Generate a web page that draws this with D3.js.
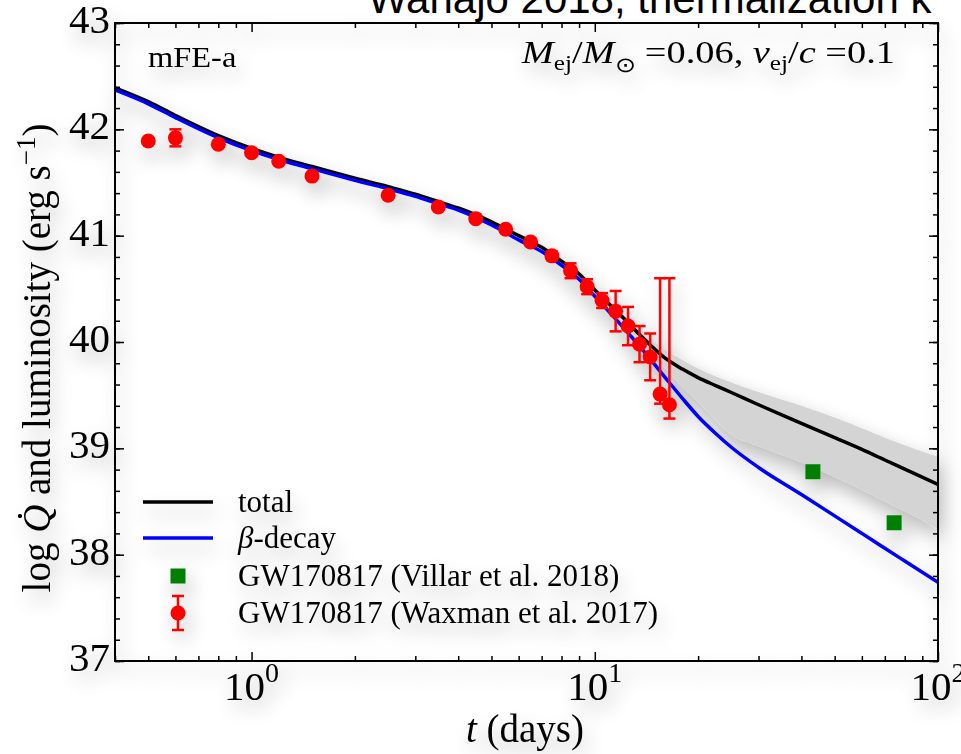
<!DOCTYPE html>
<html>
<head>
<meta charset="utf-8">
<script src="https://cdn.jsdelivr.net/npm/d3@7/dist/d3.min.js"></script>
<style>
body { margin: 0; background: #fff; overflow: hidden; }
text { font-family: "Liberation Serif", "Times New Roman", serif; fill: #000; }
</style>
</head>
<body>
<div id="chart"></div>
<script>
// model curves (log10 of heating rate, erg/s) against time in days
var modelDays = [0.4, 0.5, 0.6, 0.8, 1.0, 1.25, 1.5, 2, 2.5, 3, 3.5, 4, 5, 6, 7, 8, 9, 10, 12, 14, 16, 18, 20, 22.5, 25, 30, 40, 50, 60, 70, 80, 100];
var totalLog = [42.39, 42.26, 42.13, 41.94, 41.82, 41.72, 41.65, 41.54, 41.46, 41.39, 41.32, 41.26, 41.13, 41.00, 40.89, 40.76, 40.64, 40.49, 40.24, 40.02, 39.85, 39.745, 39.665, 39.59, 39.525, 39.41, 39.235, 39.10, 38.99, 38.89, 38.805, 38.66];
var betaLog = [42.37, 42.24, 42.11, 41.92, 41.80, 41.70, 41.63, 41.52, 41.44, 41.37, 41.30, 41.24, 41.10, 40.96, 40.85, 40.72, 40.59, 40.43, 40.15, 39.90, 39.67, 39.47, 39.30, 39.14, 39.01, 38.82, 38.565, 38.365, 38.20, 38.06, 37.94, 37.74];

// grey uncertainty band around the total
var bandDays = [12, 14, 16, 18, 20, 25, 30, 40, 50, 60, 70, 80, 100];
var bandHigh = [40.25, 40.06, 39.93, 39.83, 39.75, 39.62, 39.53, 39.40, 39.29, 39.19, 39.10, 39.03, 38.92];
var bandLow = [40.20, 39.95, 39.76, 39.58, 39.44, 39.13, 39.02, 38.87, 38.73, 38.61, 38.50, 38.41, 38.24];

// GW170817 bolometric luminosity, Waxman et al. 2017
var waxDays = [0.5, 0.6, 0.8, 1.0, 1.2, 1.5, 2.5, 3.5, 4.5, 5.5, 6.5, 7.5, 8.5, 9.5, 10.5, 11.5, 12.5, 13.5, 14.5, 15.5, 16.5];
var waxLog = [41.89, 41.92, 41.86, 41.78, 41.70, 41.56, 41.38, 41.27, 41.16, 41.06, 40.94, 40.81, 40.67, 40.52, 40.39, 40.29, 40.15, 39.98, 39.86, 39.51, 39.41];
var waxErrLo = [0.02, 0.08, 0.02, 0.02, 0.02, 0.02, 0.02, 0.02, 0.02, 0.03, 0.03, 0.04, 0.07, 0.07, 0.07, 0.19, 0.18, 0.17, 0.22, 0.09, 0.13];
var waxErrHi = [0.02, 0.08, 0.02, 0.02, 0.02, 0.02, 0.02, 0.02, 0.02, 0.03, 0.03, 0.04, 0.07, 0.07, 0.07, 0.19, 0.18, 0.17, 0.22, 1.09, 1.19];

// GW170817, Villar et al. 2018
var villarDays = [43.2, 74.5];
var villarLog = [38.78, 38.30];

var yTicks = [37, 38, 39, 40, 41, 42, 43];
var xTicks = [1, 10, 100];
var xTickExp = ["0", "1", "2"];
var legendLabels = ["total", "-decay", "GW170817 (Villar et al. 2018)", "GW170817 (Waxman et al. 2017)"];

var W = 961, H = 754;
var pLeft = 115, pRight = 938, pTop = 23, pBottom = 661;

var svg = d3.select("#chart")
            .append("svg")
            .attr("width", W)
            .attr("height", H);

var defs = svg.append("defs");
var f = defs.append("filter")
            .attr("id", "shadow")
            .attr("x", "-20%").attr("y", "-20%")
            .attr("width", "140%").attr("height", "140%");
f.append("feGaussianBlur").attr("in", "SourceAlpha").attr("stdDeviation", 10);
f.append("feOffset").attr("dx", 4).attr("dy", 10).attr("result", "off");
f.append("feComponentTransfer").append("feFuncA").attr("type", "linear").attr("slope", 0.28);
var fm = f.append("feMerge");
fm.append("feMergeNode");
fm.append("feMergeNode").attr("in", "SourceGraphic");

defs.append("clipPath").attr("id", "plotclip")
    .append("rect")
    .attr("x", pLeft).attr("y", pTop)
    .attr("width", pRight - pLeft).attr("height", pBottom - pTop);

// slide title, cut off at the top of the window
svg.append("text")
   .attr("x", 368)
   .attr("y", 13)
   .style("font-family", "'Liberation Sans', Arial, sans-serif")
   .style("font-size", "42px")
   .text("Wanajo 2018, thermalization k");

var g = svg.append("g").attr("filter", "url(#shadow)");

var x = d3.scaleLog().domain([0.4, 100]).range([pLeft, pRight]);
var y = d3.scaleLinear().domain([37, 43]).range([pBottom, pTop]);

var plot = g.append("g").attr("clip-path", "url(#plotclip)");

var band = bandDays.map(function(d, i){ return {t: d, hi: bandHigh[i], lo: bandLow[i]}; });
plot.append("path")
    .datum(band)
    .attr("d", d3.area()
      .x(function(d){ return x(d.t); })
      .y0(function(d){ return y(d.lo); })
      .y1(function(d){ return y(d.hi); })
      .curve(d3.curveMonotoneX))
    .attr("fill", "#d4d4d4");

var line = d3.line()
             .x(function(d){ return x(d.t); })
             .y(function(d){ return y(d.v); })
             .curve(d3.curveMonotoneX);

plot.append("path")
    .datum(modelDays.map(function(d, i){ return {t: d, v: totalLog[i]}; }))
    .attr("d", line)
    .attr("fill", "none")
    .attr("stroke", "black")
    .attr("stroke-width", 3.5);

plot.append("path")
    .datum(modelDays.map(function(d, i){ return {t: d, v: betaLog[i]}; }))
    .attr("d", line)
    .attr("fill", "none")
    .attr("stroke", "#0000ff")
    .attr("stroke-width", 3.5);

// error bars
var wax = waxDays.map(function(d, i){
  return {t: d, v: waxLog[i], lo: waxErrLo[i], hi: waxErrHi[i]};
});
var eb = plot.append("g").attr("stroke", "#ff0000").attr("stroke-width", 2.5);
wax.forEach(function(d){
  eb.append("line")
    .attr("x1", x(d.t)).attr("x2", x(d.t))
    .attr("y1", y(d.v - d.lo)).attr("y2", y(d.v + d.hi));
  [d.v - d.lo, d.v + d.hi].forEach(function(e){
    eb.append("line")
      .attr("x1", x(d.t) - 6).attr("x2", x(d.t) + 6)
      .attr("y1", y(e)).attr("y2", y(e));
  });
});

plot.selectAll("circle.wax")
    .data(wax)
    .enter().append("circle")
    .attr("class", "wax")
    .attr("cx", function(d){ return x(d.t); })
    .attr("cy", function(d){ return y(d.v); })
    .attr("r", 7.5)
    .attr("fill", "#ff0000");

plot.selectAll("rect.villar")
    .data(villarDays)
    .enter().append("rect")
    .attr("class", "villar")
    .attr("x", function(d){ return x(d) - 7.5; })
    .attr("y", function(d, i){ return y(villarLog[i]) - 7.5; })
    .attr("width", 15)
    .attr("height", 15)
    .attr("fill", "#008000");

// ticks, pointing inwards on all four sides
var minorX = x.ticks().filter(function(t){ return xTicks.indexOf(t) < 0; });
var minorY = d3.range(37, 43.001, 0.2);

function ticks(axis, pos, vals, size){
  var a = g.append("g")
           .attr("transform", pos)
           .call(axis.tickValues(vals).tickSize(-size).tickSizeOuter(0).tickFormat(""));
  a.select(".domain").remove();
  a.selectAll(".tick line").attr("stroke-width", 1.5);
}
ticks(d3.axisBottom(x), "translate(0," + pBottom + ")", xTicks, 9);
ticks(d3.axisBottom(x), "translate(0," + pBottom + ")", minorX, 5);
ticks(d3.axisTop(x), "translate(0," + pTop + ")", xTicks, 9);
ticks(d3.axisTop(x), "translate(0," + pTop + ")", minorX, 5);
ticks(d3.axisLeft(y), "translate(" + pLeft + ",0)", yTicks, 9);
ticks(d3.axisLeft(y), "translate(" + pLeft + ",0)", minorY, 5);
ticks(d3.axisRight(y), "translate(" + pRight + ",0)", yTicks, 9);
ticks(d3.axisRight(y), "translate(" + pRight + ",0)", minorY, 5);

g.append("rect")
 .attr("x", pLeft).attr("y", pTop)
 .attr("width", pRight - pLeft).attr("height", pBottom - pTop)
 .attr("fill", "none")
 .attr("stroke", "black")
 .attr("stroke-width", 2);

// tick labels
g.selectAll("text.ylab")
 .data(yTicks)
 .enter().append("text")
 .attr("class", "ylab")
 .attr("x", pLeft - 5)
 .attr("y", function(d){ return y(d) + 10; })
 .attr("text-anchor", "end")
 .style("font-size", "41px")
 .text(function(d){ return d; });

xTicks.forEach(function(t, i){
  var tx = g.append("text")
            .attr("x", x(t))
            .attr("y", 700)
            .attr("text-anchor", "middle")
            .style("font-size", "41px");
  tx.append("tspan").text("10");
  tx.append("tspan").attr("dy", -18).style("font-size", "28px").text(xTickExp[i]);
});

// axis titles
var xl = g.append("text")
          .attr("x", 525)
          .attr("y", 742)
          .attr("text-anchor", "middle")
          .style("font-size", "39px");
xl.append("tspan").style("font-style", "italic").text("t");
xl.append("tspan").text(" (days)");

var yl = g.append("text")
          .attr("transform", "translate(50,358) rotate(-90)")
          .attr("text-anchor", "middle")
          .style("font-size", "39px");
yl.append("tspan").text("log ");
yl.append("tspan").style("font-style", "italic").text("Q\u0307");
yl.append("tspan").text(" and luminosity (erg s");
yl.append("tspan").attr("dy", -15).style("font-size", "27px").text("\u22121");
yl.append("tspan").attr("dy", 15).text(")");

// annotations
g.append("text")
 .attr("transform", "translate(148,67) scale(1.12,1)")
 .style("font-size", "29px")
 .text("mFE-a");

var ann = g.append("text")
           .attr("transform", "translate(895,63) scale(1.2,1)")
           .attr("text-anchor", "end")
           .style("font-size", "32px");
ann.append("tspan").style("font-style", "italic").text("M");
ann.append("tspan").attr("dy", 7).style("font-size", "21px").text("ej");
ann.append("tspan").attr("dy", -7).text("/");
ann.append("tspan").style("font-style", "italic").text("M");
ann.append("tspan").attr("dy", 9).style("font-size", "21px").text("\u2299");
ann.append("tspan").attr("dy", -9).text(" =0.06,  ");
ann.append("tspan").style("font-style", "italic").text("v");
ann.append("tspan").attr("dy", 7).style("font-size", "21px").text("ej");
ann.append("tspan").attr("dy", -7).text("/");
ann.append("tspan").style("font-style", "italic").text("c");
ann.append("tspan").text(" =0.1");

// legend
var rowY = [502, 538, 576, 613];
var lg = g.append("g");
lg.append("line")
  .attr("x1", 143).attr("x2", 213).attr("y1", rowY[0]).attr("y2", rowY[0])
  .attr("stroke", "black").attr("stroke-width", 3.5);
lg.append("line")
  .attr("x1", 143).attr("x2", 213).attr("y1", rowY[1]).attr("y2", rowY[1])
  .attr("stroke", "#0000ff").attr("stroke-width", 3.5);
lg.append("rect")
  .attr("x", 178 - 7.5).attr("y", rowY[2] - 7.5)
  .attr("width", 15).attr("height", 15)
  .attr("fill", "#008000");
lg.append("line")
  .attr("x1", 178).attr("x2", 178).attr("y1", rowY[3] - 17).attr("y2", rowY[3] + 17)
  .attr("stroke", "#ff0000").attr("stroke-width", 2.5);
[rowY[3] - 17, rowY[3] + 17].forEach(function(e){
  lg.append("line")
    .attr("x1", 172).attr("x2", 184).attr("y1", e).attr("y2", e)
    .attr("stroke", "#ff0000").attr("stroke-width", 2.5);
});
lg.append("circle")
  .attr("cx", 178).attr("cy", rowY[3]).attr("r", 7.5)
  .attr("fill", "#ff0000");

legendLabels.forEach(function(s, i){
  var t = lg.append("text")
            .attr("x", 238)
            .attr("y", rowY[i] + 10)
            .style("font-size", "31px");
  if (i == 1) t.append("tspan").style("font-style", "italic").text("\u03b2");
  t.append("tspan").text(s);
});
</script>
</body>
</html>
